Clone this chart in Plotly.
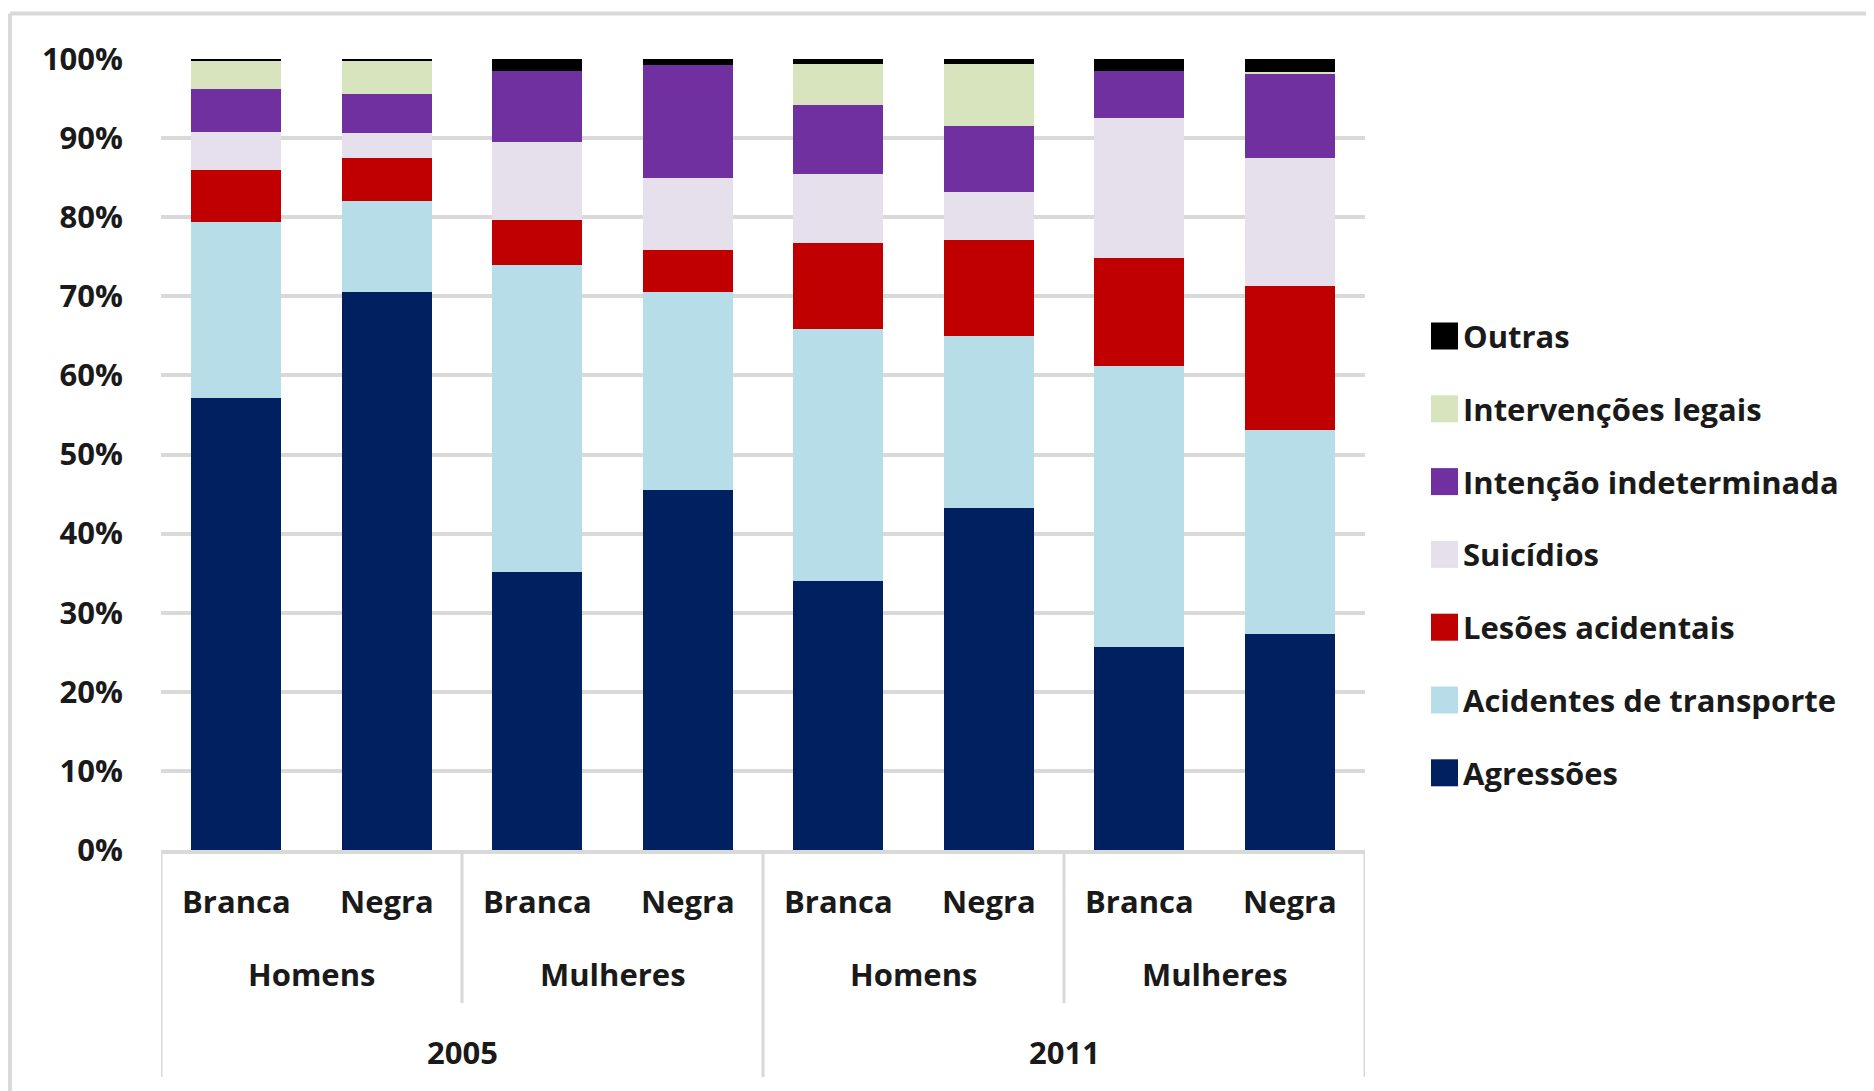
"""Stacked 100% bars: causas externas de morte por sexo, cor e ano."""
import plotly.graph_objects as go

years = ["2005", "2011"]
sexes = ["Homens", "Mulheres"]
races = ["Branca", "Negra"]

# one bar per (ano, sexo, cor), in drawing order
groups = [(y, s, r) for y in years for s in sexes for r in races]
categories = [f"{y} {s} {r}" for y, s, r in groups]

# shares in %, bottom to top of each bar
agressoes = [57.1, 70.5, 35.2, 45.5, 34.0, 43.3, 25.7, 27.3]
acidentes_transporte = [22.3, 11.5, 38.8, 25.0, 31.9, 21.7, 35.5, 25.8]
lesoes_acidentais = [6.6, 5.5, 5.7, 5.4, 10.9, 12.1, 13.7, 18.2]
suicidios = [4.8, 3.2, 9.8, 9.1, 8.7, 6.1, 17.6, 16.2]
intencao_indeterminada = [5.4, 4.9, 9.0, 14.2, 8.7, 8.3, 6.0, 10.7]
intervencoes_legais = [3.5, 4.1, 0.0, 0.0, 5.2, 7.9, 0.0, 0.2]
outras = [0.3, 0.3, 1.5, 0.8, 0.6, 0.6, 1.5, 1.6]

series = [
    ("Agressões", agressoes, "#002060"),
    ("Acidentes de transporte", acidentes_transporte, "#B7DDE8"),
    ("Lesões acidentais", lesoes_acidentais, "#C00000"),
    ("Suicídios", suicidios, "#E6E0EC"),
    ("Intenção indeterminada", intencao_indeterminada, "#7030A0"),
    ("Intervenções legais", intervencoes_legais, "#D7E4BD"),
    ("Outras", outras, "#000000"),
]

# the page puts the plot 8px in from the corner, so lay out in page pixels minus that
OFF = 8
W, H = 1874 - OFF, 1091 - OFF
L, T = 161 - OFF, 59 - OFF
PW, PH = 1365 - 161, 850 - 59
R, B = W - L - PW, H - T - PH
FONT = dict(family="Open Sans", size=31, color="#1a1a1a", weight=700)
GRID = "#D9D9D9"


def px_x(p):
    return (p - OFF - L) / PW


def px_y(p):
    return (T + PH - (p - OFF)) / PH


fig = go.Figure()
for name, vals, color in series:
    fig.add_trace(go.Bar(x=categories, y=vals, name=name, marker_color=color,
                         marker_line_width=0, showlegend=False))

annotations = []
shapes = []

# category labels, three levels
for cat, (y, s, r) in zip(categories, groups):
    annotations.append(dict(x=cat, xref="x", y=px_y(901), yref="paper", text=r,
                            showarrow=False, font=FONT, yanchor="middle"))
n_r = len(races)
for i in range(len(years) * len(sexes)):
    annotations.append(dict(x=i * n_r + (n_r - 1) / 2, xref="x", y=px_y(974), yref="paper",
                            text=sexes[i % len(sexes)], showarrow=False, font=FONT,
                            yanchor="middle"))
n_y = len(sexes) * n_r
for i, y in enumerate(years):
    annotations.append(dict(x=i * n_y + (n_y - 1) / 2, xref="x", y=px_y(1052), yref="paper",
                            text=y, showarrow=False, font=FONT, yanchor="middle"))

# divider lines under the axis
for k in range(0, len(categories) + 1, n_r):
    y_end = px_y(1077) if k % n_y == 0 else px_y(1003)
    shapes.append(dict(type="line", xref="x", yref="paper", x0=k - 0.5, x1=k - 0.5,
                       y0=0, y1=y_end, line=dict(color=GRID, width=3)))

# legend drawn by hand so the swatches can be big
for i, (name, vals, color) in enumerate(reversed(series)):
    cy = 336 + i * 72.8
    shapes.append(dict(type="rect", xref="paper", yref="paper",
                       x0=px_x(1431), x1=px_x(1458), y0=px_y(cy - 13.5), y1=px_y(cy + 13.5),
                       fillcolor=color, line_width=0))
    annotations.append(dict(x=px_x(1461), xref="paper", y=px_y(cy), yref="paper",
                            text=name, showarrow=False, font=FONT,
                            xanchor="left", yanchor="middle"))

# chart frame (top and left edges are visible)
shapes.append(dict(type="line", xref="paper", yref="paper", x0=px_x(10), x1=px_x(1880),
                   y0=px_y(13.5), y1=px_y(13.5), line=dict(color=GRID, width=4)))
shapes.append(dict(type="line", xref="paper", yref="paper", x0=px_x(10), x1=px_x(10),
                   y0=px_y(13.5), y1=px_y(1100), line=dict(color=GRID, width=4)))

fig.update_layout(
    width=W, height=H,
    margin=dict(l=L, r=R, t=T, b=B),
    barmode="stack", bargap=0.4,
    plot_bgcolor="white", paper_bgcolor="white",
    font=FONT,
    annotations=annotations, shapes=shapes,
)
fig.update_xaxes(showticklabels=False, showgrid=False, showline=True, linecolor=GRID,
                 linewidth=4, ticks="", range=[-0.5, len(categories) - 0.5])
fig.update_yaxes(range=[0, 100], dtick=10, ticksuffix="%", showgrid=True, gridcolor=GRID,
                 gridwidth=4, zeroline=False, showline=False, ticks="",
                 ticklabelstandoff=37, tickfont=FONT)

fig.write_html("out.html")
